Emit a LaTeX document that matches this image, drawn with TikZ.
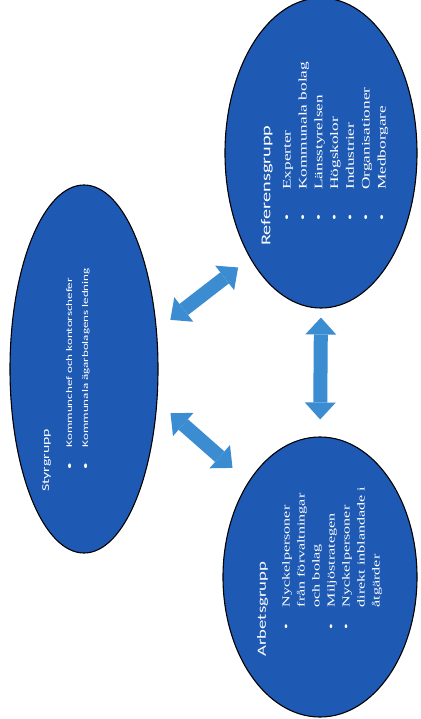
\documentclass[tikz,border=0pt]{standalone}
\usepackage{fontspec}
\usetikzlibrary{arrows.meta, shapes.geometric}
\newfontfamily\calfont{Carlito}
\newfontfamily\camfont{Liberation Serif}
\definecolor{cgroup}{HTML}{1E5AB4}
\definecolor{clink}{HTML}{3C8CD2}
\newcommand{\bul}[1]{\makebox[#1][l]{\textbullet}}
\tikzset{
  group/.style={ellipse, draw=black, fill=cgroup, line width=1.1pt, inner sep=0pt},
  grouptext/.style={text=white, rotate=90, xscale=1.5, anchor=north west, inner sep=0pt, align=left},
  link/.style={draw=clink, line width=14pt,
    {Triangle[width=31pt, length=17pt, line width=0pt]}-{Triangle[width=31pt, length=17pt, line width=0pt]}},
}

\begin{document}
\begin{tikzpicture}[x=1pt, y=-1pt]
  \useasboundingbox (0,0) rectangle (420,719);

  % ---- groups
  \node[group, minimum width=148pt, minimum height=368pt] (styr) at (84,369) {};
  \node[group, minimum width=192pt, minimum height=310pt] (ref)  at (321,153) {};
  \node[group, minimum width=194pt, minimum height=280pt] (arb)  at (320,577) {};

  % ---- texts
  \node[grouptext, font=\calfont\fontsize{10.5}{13}\selectfont] (styr-t) at (42,492) {Styrgrupp};
  \node[grouptext, font=\calfont\fontsize{8.7}{16}\selectfont] (styr-l) at (66,470)
    {\bul{15pt}Kommunchef och kontorschefer\\ \bul{15pt}Kommunala ägarbolagens ledning};

  \node[grouptext, font=\calfont\fontsize{13.5}{16}\selectfont] (ref-t) at (261,246) {Referensgrupp};
  \node[grouptext, font=\camfont\fontsize{11.5}{15.8}\selectfont] (ref-l) at (283,221)
    {\bul{20.7pt}Experter\\ \bul{20.7pt}Kommunala bolag\\ \bul{20.7pt}Länsstyrelsen\\
     \bul{20.7pt}Högskolor\\ \bul{20.7pt}Industrier\\ \bul{20.7pt}Organisationer\\ \bul{20.7pt}Medborgare};

  \node[grouptext, font=\calfont\fontsize{12.5}{16}\selectfont] (arb-t) at (257,657) {Arbetsgrupp};
  \node[grouptext, font=\camfont\fontsize{10.7}{15}\selectfont] (arb-l) at (282,630)
    {\bul{15pt}Nyckelpersoner\\ \hspace*{15pt}från förvaltningar\\ \hspace*{15pt}och bolag\\
     \bul{15pt}Miljöstrategen\\ \bul{15pt}Nyckelpersoner\\ \hspace*{15pt}direkt inblandade i\\ \hspace*{15pt}åtgärder};

  % ---- links
  \draw[link, shorten <=17pt, shorten >=15pt] (styr.28) -- (ref.236);
  \draw[link, shorten <=17.5pt, shorten >=21pt] (styr.336) -- (arb.127);
  \draw[link, shorten <=9pt, shorten >=17pt] (ref.south) -- (arb.north);
\end{tikzpicture}
\end{document}
